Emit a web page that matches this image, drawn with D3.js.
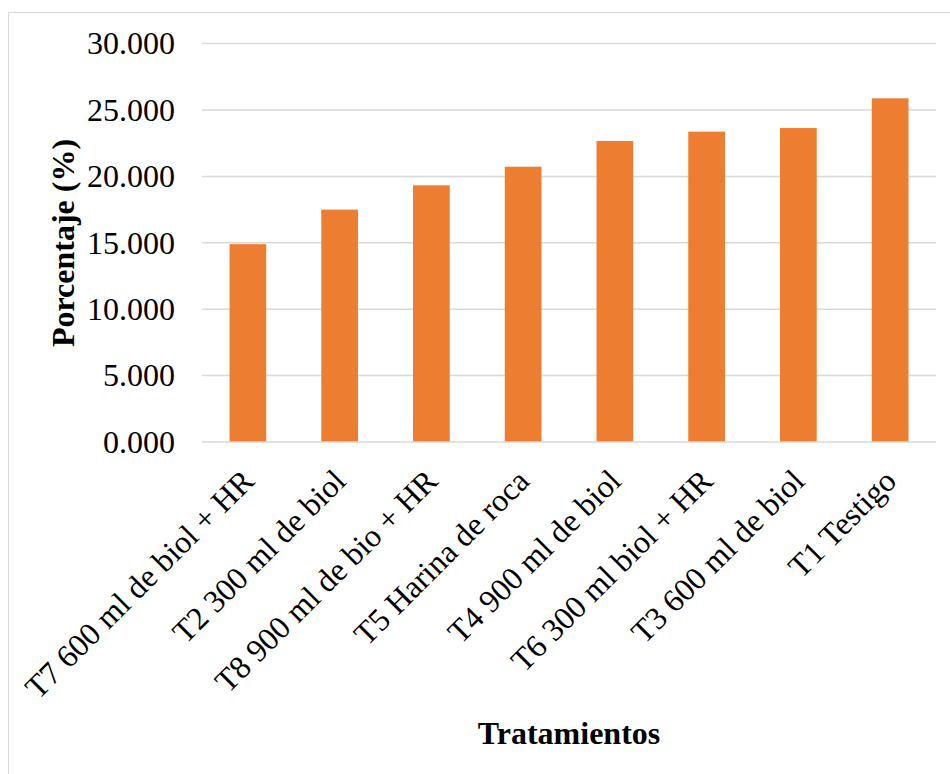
<!DOCTYPE html>
<html>
<head>
<meta charset="utf-8">
<script src="https://cdn.jsdelivr.net/npm/d3@7"></script>
<style>
  body { margin: 0; background: #fff; }
  text { font-family: "Liberation Serif", "Times New Roman", serif; fill: #000; }
</style>
</head>
<body>
<svg id="chart"></svg>
<script>
// data
var categories = ["T7 600 ml de biol + HR", "T2 300 ml de biol", "T8 900 ml de bio + HR",
                  "T5 Harina de roca", "T4 900 ml de biol", "T6 300 ml biol + HR",
                  "T3 600 ml de biol", "T1 Testigo"];
var values = [14.9, 17.5, 19.33, 20.73, 22.67, 23.37, 23.64, 25.88];
var yTicks = [0, 5, 10, 15, 20, 25, 30];

var W = 950, H = 774,
    plotLeft = 202, plotRight = 936, plotTop = 43.6, plotBottom = 442;

var svg = d3.select("#chart").attr("width", W).attr("height", H);

// outer frame
svg.append("rect")
    .attr("x", 8.5).attr("y", 12.5)
    .attr("width", W + 10).attr("height", H + 10)
    .style("fill", "none").style("stroke", "#d9d9d9").style("stroke-width", 1);

var x = d3.scaleBand().domain(categories).range([plotLeft, plotRight]).paddingInner(0.6).paddingOuter(0.3);
var y = d3.scaleLinear().domain([0, 30]).range([plotBottom, plotTop]);

// gridlines
svg.append("g").selectAll("line")
    .data(yTicks.filter(function(d) { return d > 0; }))
    .enter().append("line")
      .attr("x1", plotLeft).attr("x2", plotRight)
      .attr("y1", function(d) { return y(d); })
      .attr("y2", function(d) { return y(d); })
      .style("stroke", "#d9d9d9").style("stroke-width", 1.5);

// bars
svg.append("g").selectAll("rect")
    .data(values)
    .enter().append("rect")
      .attr("x", function(d, i) { return x(categories[i]); })
      .attr("y", function(d) { return y(d); })
      .attr("width", x.bandwidth())
      .attr("height", function(d) { return y(0) - y(d); })
      .style("fill", "#ED7D31");

// x axis line
svg.append("line")
    .attr("x1", plotLeft).attr("x2", plotRight)
    .attr("y1", plotBottom).attr("y2", plotBottom)
    .style("stroke", "#d9d9d9").style("stroke-width", 1.5);

// y tick labels
var yAxis = d3.axisLeft(y).tickValues(yTicks).tickSize(0).tickPadding(0)
    .tickFormat(function(d) { return d3.format(".3f")(d); });
var gy = svg.append("g").attr("transform", "translate(175,0)").call(yAxis);
gy.select(".domain").remove();
gy.selectAll("text")
    .style("font-family", "'Liberation Serif', 'Times New Roman', serif")
    .style("font-size", "32px").style("fill", "#000");

// category labels, rotated
svg.append("g").selectAll("text")
    .data(categories)
    .enter().append("text")
      .attr("transform", function(d) {
        return "translate(" + (x(d) + x.bandwidth() / 2) + "," + (plotBottom + 33) + ") rotate(-45)";
      })
      .attr("text-anchor", "end")
      .attr("dy", "0.35em")
      .style("font-size", "32px")
      .text(function(d) { return d; });

// axis titles
svg.append("text")
    .attr("transform", "translate(74,243) rotate(-90)")
    .attr("text-anchor", "middle")
    .style("font-size", "32px").style("font-weight", "bold")
    .text("Porcentaje (%)");

svg.append("text")
    .attr("x", 569).attr("y", 744)
    .attr("text-anchor", "middle")
    .style("font-size", "32px").style("font-weight", "bold")
    .text("Tratamientos");
</script>
</body>
</html>
